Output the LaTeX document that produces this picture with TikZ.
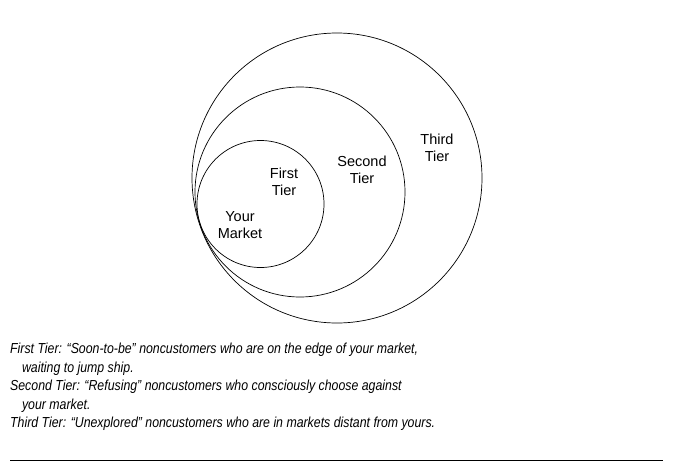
\documentclass[tikz,border=0pt]{standalone}
\usepackage{fontspec}
\setmainfont{Liberation Sans}
\begin{document}
\begin{tikzpicture}[
        x=1pt, y=-1pt,
        tier/.style = {draw, line width=0.7pt}, % Stil der Kreise
        lbl/.style = {align=center, font=\fontsize{14.5}{17.5}\selectfont, inner sep=0pt},
        note/.style = {anchor=north west, align=left, inner sep=0pt, font=\fontsize{14.5}{18.5}\selectfont\itshape},
    ]
    \useasboundingbox (0,0) rectangle (673,472);

    \draw[tier] (337,178) circle (145);
    \draw[tier] (300,192) circle (105);
    \draw[tier] (260.5,204) circle (63.5);

    \node[lbl] (market) at (240,225) {Your\\Market};
    \node[lbl] (first) at (284,182) {First\\Tier};
    \node[lbl] (second) at (362,170) {Second\\Tier};
    \node[lbl] (third) at (437,148) {Third\\Tier};

    \node[note, xscale=0.85] (legend) at (10,343) {First Tier: “Soon-to-be” noncustomers who are on the edge of your market,\\
        \hspace*{14pt}waiting to jump ship.\\
        Second Tier: “Refusing” noncustomers who consciously choose against\\
        \hspace*{14pt}your market.\\
        Third Tier: “Unexplored” noncustomers who are in markets distant from yours.};

    \coordinate (rulel) at (10,460);
    \coordinate (ruler) at (663,460);
    \draw[line width=0.8pt] (rulel) -- (ruler);
\end{tikzpicture}
\end{document}
